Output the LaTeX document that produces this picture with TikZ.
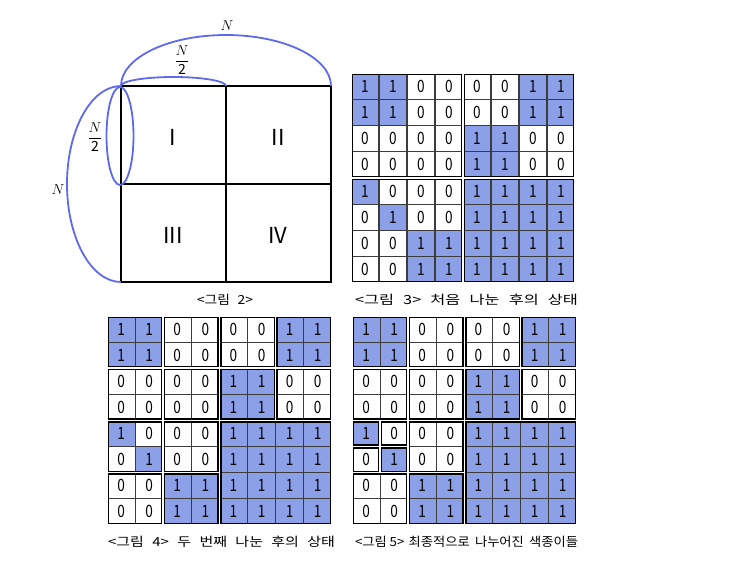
\documentclass[tikz,border=0pt]{standalone}
\usepackage{fontspec}
\newfontfamily\kr{Noto Sans CJK KR}
\definecolor{cellblue}{RGB}{140,160,232}
\definecolor{arcblue}{RGB}{95,105,235}
\definecolor{cellgray}{RGB}{60,60,60}
\tikzset{
  cell0/.style={fill=white,draw=cellgray,line width=1.1},
  cell1/.style={fill=cellblue,draw=cellgray,line width=1.1},
  digit/.style={inner sep=0pt,font=\kr\fontsize{17}{17}\selectfont},
  blockline/.style={draw=black,line width=1.4},
  caption/.style={inner sep=0pt,font=\kr\fontsize{12.5}{13}\selectfont},
  roman/.style={inner sep=0pt,font=\kr\fontsize{22}{22}\selectfont},
  dimlabel/.style={inner sep=0pt,font=\fontsize{14}{14}\selectfont},
  arcline/.style={draw=arcblue,line width=1.8},
}
\newcommand\ksp{\hspace{7pt}}
\newcommand\drawgrid[6]{%
  \foreach \rowvals [count=\r from 0] in {{1,1,0,0,0,0,1,1},{1,1,0,0,0,0,1,1},{0,0,0,0,1,1,0,0},{0,0,0,0,1,1,0,0},{1,0,0,0,1,1,1,1},{0,1,0,0,1,1,1,1},{0,0,1,1,1,1,1,1},{0,0,1,1,1,1,1,1}}{
    \foreach \v [count=\c from 0] in \rowvals {
      \path[cell\v] ({#2+\c*#4},{#3+\r*#5}) rectangle +(#4,#5);
      \node[digit] (#1-\r-\c) at ({#2+(\c+0.5)*#4},{#3+(\r+0.5)*#5}) {\scalebox{0.8}[1]{\v}};
    }
  }
  \foreach \bc/\br/\bw/\bh in {#6}{
    \draw[white,line width=1.8] ({#2+\bc*#4},{#3+\br*#5}) rectangle ({#2+(\bc+\bw)*#4},{#3+(\br+\bh)*#5});
    \draw[blockline] ({#2+\bc*#4+1.4},{#3+\br*#5+1.4}) rectangle ({#2+(\bc+\bw)*#4-1.4},{#3+(\br+\bh)*#5-1.4});
  }
}
\begin{document}
\begin{tikzpicture}[x=1pt,y=-1pt]
\useasboundingbox[fill=white] (0,0) rectangle (750,570);

% ---- Figure 2 ----
\coordinate (tl) at (121,86);
\coordinate (tm) at (226,86);
\coordinate (tr) at (331,86);
\coordinate (ml) at (121,184);
\coordinate (mr) at (331,184);
\coordinate (bl) at (121,282);
\coordinate (bm) at (226,282);
\coordinate (br) at (331,282);
\draw[line width=1.3] (tm) -- (bm);
\draw[line width=1.3] (ml) -- (mr);
\draw[line width=2] (tl) rectangle (br);
\node[roman] (q1) at (173,137) {I};
\node[roman] (q2) at (278,137) {II};
\node[roman] (q3) at (173,235) {III};
\node[roman] (q4) at (278,235) {IV};

\draw[arcline] (tl) arc[start angle=180,end angle=360,x radius=105,y radius=51];
\draw[arcline] (tl) arc[start angle=180,end angle=360,x radius=52.5,y radius=9];
\draw[arcline] (tl) arc[start angle=270,end angle=90,x radius=54,y radius=98];
\draw[arcline] (120,136) ellipse[x radius=13.5,y radius=49];

\node[dimlabel] (ntop) at (227,26) {$N$};
\node[dimlabel] (nhalftop) at (182,60) {$\displaystyle\frac{N}{\mbox{\kr 2}}$};
\node[dimlabel] (nhalfleft) at (95,137) {$\displaystyle\frac{N}{\mbox{\kr 2}}$};
\node[dimlabel] (nleft) at (58,190) {$N$};
\node[caption] (cap2) at (225,300) {\resizebox{56pt}{\height}{<그림\ksp 2>}};

% ---- Figure 3 ----
\drawgrid{g3}{351}{73}{28}{26.25}{0/0/4/4,4/0/4/4,0/4/4/4,4/4/4/4}
\node[caption] (cap3) at (466.5,300) {\resizebox{223pt}{\height}{<그림\ksp 3>\ksp 처음\ksp 나눈\ksp 후의\ksp 상태}};

% ---- Figure 4 ----
\drawgrid{g4}{107}{316}{28.1}{26.1}{0/0/2/2,2/0/2/2,0/2/2/2,2/2/2/2,4/0/2/2,6/0/2/2,4/2/2/2,6/2/2/2,0/4/2/2,2/4/2/2,0/6/2/2,2/6/2/2,4/4/4/4}
\node[caption] (cap4) at (221.5,542) {\resizebox{227pt}{\height}{<그림\ksp 4>\ksp 두\ksp 번째\ksp 나눈\ksp 후의\ksp 상태}};

% ---- Figure 5 ----
\drawgrid{g5}{352}{316}{28.1}{26.1}{0/0/2/2,2/0/2/2,0/2/2/2,2/2/2/2,4/0/2/2,6/0/2/2,4/2/2/2,6/2/2/2,0/4/1/1,1/4/1/1,0/5/1/1,1/5/1/1,2/4/2/2,0/6/2/2,2/6/2/2,4/4/4/4}
\node[caption] (cap5) at (466.5,542) {\resizebox{223pt}{\height}{<그림 5>\hspace{4pt}최종적으로\hspace{5pt}나누어진\hspace{5pt}색종이들}};
\end{tikzpicture}
\end{document}
